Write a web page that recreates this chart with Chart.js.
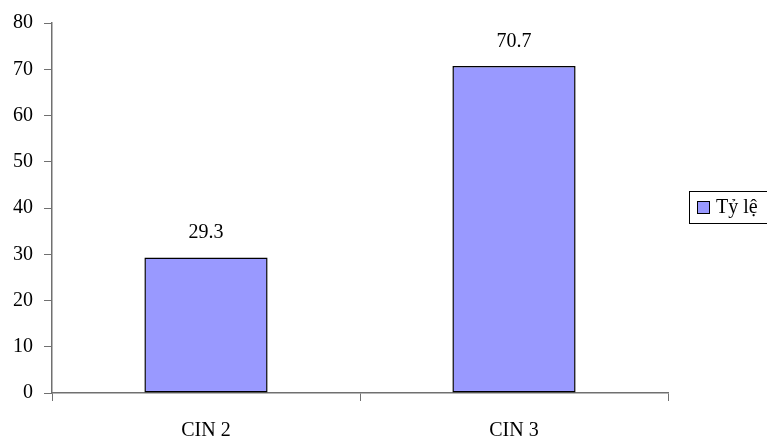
<!DOCTYPE html>
<html>
<head>
<meta charset="utf-8">
<script src="https://cdn.jsdelivr.net/npm/chart.js@4/dist/chart.umd.min.js"></script>
<style>
  html, body { margin: 0; padding: 0; background: #fff; overflow: hidden; }
  #wrap { position: relative; width: 767px; height: 436px; }
</style>
</head>
<body>
<div id="wrap"><canvas id="cin-chart"></canvas></div>
<script>
const categories = ['CIN 2', 'CIN 3'];
const rates = [29.3, 70.7];
const seriesName = 'Tỷ lệ';
const yTicks = [0, 10, 20, 30, 40, 50, 60, 70, 80];

const FONT = "'Liberation Serif', 'Times New Roman', serif";
const barFill = '#9999ff';
const axisGrey = '#707070';

// value labels above each bar
const valueLabels = {
  id: 'valueLabels',
  afterDatasetsDraw(chart) {
    const c = chart.ctx;
    const meta = chart.getDatasetMeta(0);
    c.save();
    c.font = '20px ' + FONT;
    c.fillStyle = '#000';
    c.textAlign = 'center';
    c.textBaseline = 'alphabetic';
    meta.data.forEach((bar, i) => {
      c.fillText(String(chart.data.datasets[0].data[i]), bar.x, bar.y - 19);
    });
    c.restore();
  }
};

// boxed legend on the right, drawn by hand (runs off the edge)
const boxLegend = {
  id: 'boxLegend',
  afterDraw(chart) {
    const c = chart.ctx;
    const ds = chart.data.datasets[0];
    const area = chart.chartArea;
    const x = area.right + 21, y = 191, h = 32;
    c.save();
    c.strokeStyle = '#000';
    c.lineWidth = 1;
    c.strokeRect(x + 0.5, y + 0.5, 200, h);
    c.fillStyle = ds.backgroundColor;
    c.fillRect(x + 8.5, y + 10.5, 12, 12);
    c.strokeRect(x + 8.5, y + 10.5, 12, 12);
    c.fillStyle = '#000';
    c.font = '20px ' + FONT;
    c.textBaseline = 'middle';
    c.fillText(ds.label, x + 27, y + h / 2 + 1);
    c.restore();
  }
};

new Chart(document.getElementById('cin-chart'), {
  type: 'bar',
  data: {
    labels: categories,
    datasets: [{
      label: seriesName,
      data: rates,
      backgroundColor: barFill,
      borderColor: '#000',
      borderWidth: 1.5,
      borderSkipped: false,
      barPercentage: 0.4,
      categoryPercentage: 1
    }]
  },
  options: {
    responsive: true,
    maintainAspectRatio: false,
    animation: false,
    layout: { padding: { top: 21, right: 99, left: 0, bottom: 0 } },
    plugins: {
      legend: { display: false },
      tooltip: { enabled: false }
    },
    scales: {
      x: {
        offset: true,
        grid: {
          offset: true,
          drawOnChartArea: false,
          drawTicks: true,
          tickLength: 8,
          color: axisGrey
        },
        border: { color: axisGrey, width: 1.5 },
        ticks: { color: '#000', font: { family: FONT, size: 20 }, padding: 18 },
        afterFit(s) { s.height = 43; }
      },
      y: {
        min: 0,
        max: 80,
        afterBuildTicks(s) { s.ticks = yTicks.map(v => ({ value: v })); },
        grid: {
          drawOnChartArea: false,
          drawTicks: true,
          tickLength: 8,
          color: axisGrey
        },
        border: { color: axisGrey, width: 1.5 },
        ticks: { color: '#000', font: { family: FONT, size: 20 }, padding: 11 },
        afterFit(s) { s.width = 52; }
      }
    }
  },
  plugins: [valueLabels, boxLegend]
});
</script>
</body>
</html>
